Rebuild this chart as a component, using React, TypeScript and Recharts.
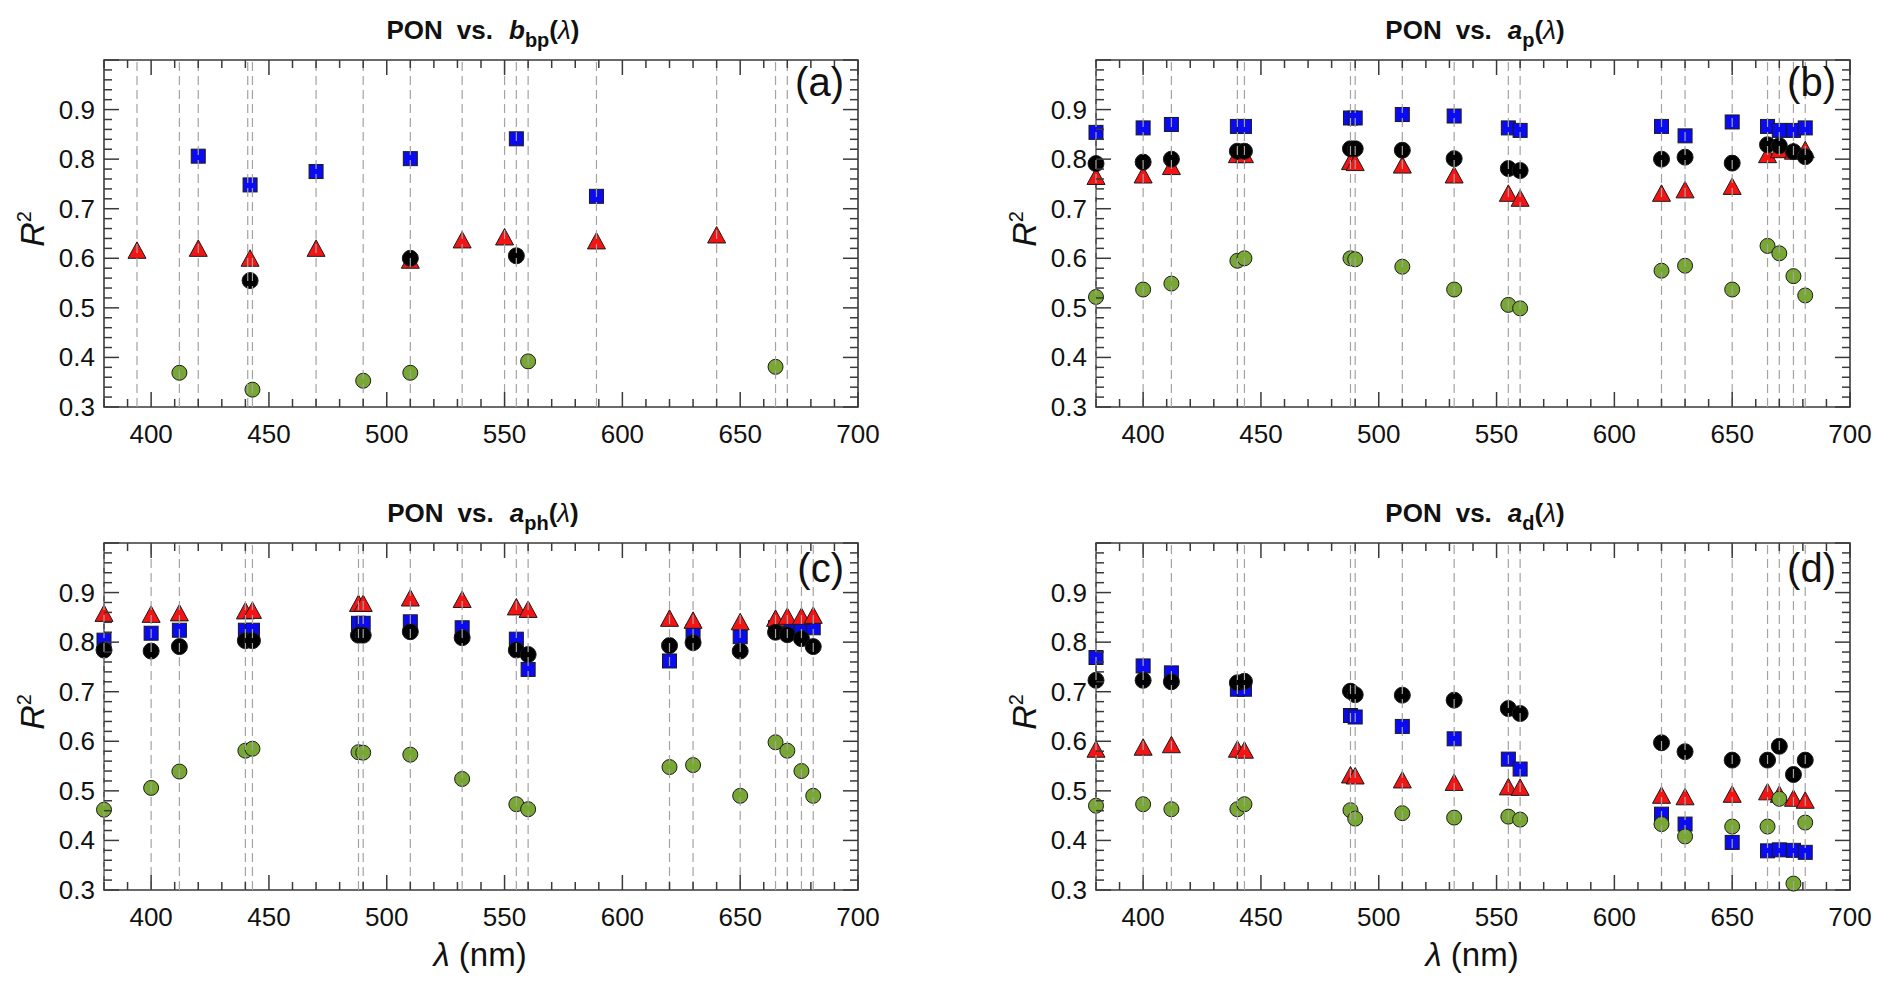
import React from 'react';
import { ScatterChart, Scatter, XAxis, YAxis, ReferenceLine, ReferenceArea } from 'recharts';

const FONT = '"Liberation Sans", Arial, Helvetica, sans-serif';
const INK = '#3a3a3a';

// plot box size (px) shared by the four panels
const PW = 754;
const PH = 347;

// ---- axis ticks ----
const X_MAJOR = [400, 450, 500, 550, 600, 650, 700];
const Y_MAJOR = [0.3, 0.4, 0.5, 0.6, 0.7, 0.8, 0.9];
const X_TICKS: number[] = [];
for (let v = 380; v <= 700; v += 10) X_TICKS.push(v);
const Y_TICKS: number[] = [];
for (let k = 0; k <= 35; k++) Y_TICKS.push(Number((0.3 + k * 0.02).toFixed(2)));

// ---- (a) PON vs bbp ----
const A_LINES = [394, 412, 420, 441, 443, 470, 490, 510, 532, 550, 555, 560, 589, 640, 665, 670];
const A_BLUE_WL = [420, 442, 470, 510, 555, 589];
const A_BLUE = [0.806, 0.748, 0.775, 0.801, 0.841, 0.725];
const A_RED_WL = [394, 420, 442, 470, 510, 532, 550, 589, 640];
const A_RED = [0.613, 0.617, 0.597, 0.617, 0.593, 0.634, 0.64, 0.632, 0.644];
const A_BLACK_WL = [442, 510, 555];
const A_BLACK = [0.555, 0.6, 0.605];
const A_GREEN_WL = [412, 443, 490, 510, 560, 665];
const A_GREEN = [0.369, 0.335, 0.353, 0.369, 0.392, 0.381];

// ---- (b), (c), (d) share the wavelengths ----
const WL = [380, 400, 412, 440, 443, 488, 490, 510, 532, 555, 560, 620, 630, 650, 665, 670, 676, 681];

const B_BLUE = [0.854, 0.863, 0.87, 0.866, 0.866, 0.883, 0.883, 0.89, 0.887, 0.863, 0.858, 0.866, 0.847, 0.875, 0.866, 0.858, 0.858, 0.863];
const B_BLACK = [0.791, 0.794, 0.8, 0.816, 0.816, 0.821, 0.821, 0.818, 0.801, 0.781, 0.777, 0.8, 0.804, 0.792, 0.829, 0.827, 0.815, 0.805];
const B_RED = [0.762, 0.765, 0.782, 0.806, 0.806, 0.792, 0.79, 0.785, 0.765, 0.728, 0.718, 0.728, 0.735, 0.742, 0.806, 0.816, 0.813, 0.816];
const B_GREEN = [0.522, 0.537, 0.549, 0.595, 0.6, 0.6, 0.598, 0.583, 0.537, 0.506, 0.499, 0.575, 0.585, 0.537, 0.625, 0.61, 0.564, 0.525];

const C_BLUE = [0.804, 0.818, 0.824, 0.824, 0.824, 0.838, 0.838, 0.841, 0.829, 0.806, 0.745, 0.762, 0.821, 0.811, 0.829, 0.824, 0.829, 0.829];
const C_BLACK = [0.784, 0.782, 0.791, 0.803, 0.803, 0.814, 0.814, 0.821, 0.809, 0.784, 0.775, 0.793, 0.799, 0.782, 0.82, 0.815, 0.807, 0.791];
const C_RED = [0.855, 0.853, 0.856, 0.86, 0.861, 0.875, 0.875, 0.886, 0.883, 0.868, 0.863, 0.845, 0.841, 0.838, 0.845, 0.849, 0.849, 0.851];
const C_GREEN = [0.462, 0.506, 0.539, 0.581, 0.585, 0.578, 0.577, 0.573, 0.524, 0.473, 0.463, 0.548, 0.552, 0.49, 0.598, 0.581, 0.54, 0.49];

const D_BLUE = [0.769, 0.752, 0.738, 0.705, 0.705, 0.652, 0.649, 0.63, 0.605, 0.564, 0.544, 0.453, 0.433, 0.396, 0.379, 0.381, 0.38, 0.376];
const D_BLACK = [0.723, 0.723, 0.72, 0.718, 0.721, 0.701, 0.694, 0.693, 0.683, 0.666, 0.656, 0.597, 0.579, 0.562, 0.562, 0.59, 0.533, 0.562];
const D_RED = [0.581, 0.585, 0.59, 0.581, 0.579, 0.529, 0.527, 0.519, 0.514, 0.505, 0.504, 0.488, 0.485, 0.49, 0.495, 0.49, 0.482, 0.478];
const D_GREEN = [0.47, 0.473, 0.463, 0.463, 0.473, 0.461, 0.444, 0.455, 0.446, 0.448, 0.442, 0.433, 0.408, 0.428, 0.428, 0.484, 0.313, 0.436];

const pts = (wl: number[], r2: number[]) => wl.map((x, i) => ({ x, y: r2[i] }));

// ---- marker shapes ----
const EDGE = '#1a1a1a';
const Square = (p: any) => (
  <rect x={p.cx - 7} y={p.cy - 7} width={14} height={14} fill="#0b0bf2" stroke={EDGE} strokeWidth={1} />
);
const Triangle = (p: any) => (
  <polygon
    points={`${p.cx},${p.cy - 10} ${p.cx + 9},${p.cy + 6.5} ${p.cx - 9},${p.cy + 6.5}`}
    fill="#f51414"
    stroke={EDGE}
    strokeWidth={1}
  />
);
const BlackDot = (p: any) => <circle cx={p.cx} cy={p.cy} r={8} fill="#000" stroke={EDGE} strokeWidth={1} />;
const GreenDot = (p: any) => <circle cx={p.cx} cy={p.cy} r={7.5} fill="#78a833" stroke={EDGE} strokeWidth={1} />;

// ticks drawn inward on both opposite sides, labels only on majors
const XTick = (props: any) => {
  const { x, y, payload } = props;
  const v = payload.value;
  const major = v % 50 === 0;
  const len = major ? 15 : 8;
  return (
    <g>
      <line x1={x} y1={y} x2={x} y2={y - len} stroke={INK} strokeWidth={1.5} />
      <line x1={x} y1={y - PH} x2={x} y2={y - PH + len} stroke={INK} strokeWidth={1.5} />
      {X_MAJOR.includes(v) && (
        <text x={x} y={y + 36} textAnchor="middle" fontSize={26} fontFamily={FONT} fill="#111">
          {v}
        </text>
      )}
    </g>
  );
};

const YTick = (props: any) => {
  const { x, y, payload } = props;
  const v = payload.value;
  const major = Math.abs(v * 10 - Math.round(v * 10)) < 1e-6;
  const len = major ? 15 : 8;
  const label = Y_MAJOR.find((m) => Math.abs(m - v) < 1e-6);
  return (
    <g>
      <line x1={x} y1={y} x2={x + len} y2={y} stroke={INK} strokeWidth={1.5} />
      <line x1={x + PW} y1={y} x2={x + PW - len} y2={y} stroke={INK} strokeWidth={1.5} />
      {label !== undefined && (
        <text x={x - 9} y={y + 9} textAnchor="end" fontSize={26} fontFamily={FONT} fill="#111">
          {label.toFixed(1)}
        </text>
      )}
    </g>
  );
};

interface PanelProps {
  left: number;
  top: number;
  lines: number[];
  blue: { x: number; y: number }[];
  red: { x: number; y: number }[];
  black: { x: number; y: number }[];
  green: { x: number; y: number }[];
}

function Panel({ left, top, lines, blue, red, black, green }: PanelProps) {
  return (
    <div style={{ position: 'absolute', left, top }}>
      <ScatterChart width={900} height={470} margin={{ top: 60, right: 42, bottom: 13, left: 34 }}>
        <XAxis
          type="number"
          dataKey="x"
          domain={[380, 700]}
          ticks={X_TICKS}
          interval={0}
          height={50}
          tickSize={0}
          tickMargin={0}
          axisLine={false}
          tickLine={false}
          tick={XTick}
        />
        <YAxis
          type="number"
          dataKey="y"
          domain={[0.3, 1]}
          ticks={Y_TICKS}
          interval={0}
          width={70}
          tickSize={0}
          tickMargin={0}
          axisLine={false}
          tickLine={false}
          tick={YTick}
        />
        <ReferenceArea x1={380} x2={700} y1={0.3} y2={1} fill="none" stroke={INK} strokeWidth={1.6} />
        <Scatter data={blue} shape={Square} isAnimationActive={false} />
        <Scatter data={red} shape={Triangle} isAnimationActive={false} />
        <Scatter data={black} shape={BlackDot} isAnimationActive={false} />
        <Scatter data={green} shape={GreenDot} isAnimationActive={false} />
        {lines.map((w) => (
          <ReferenceLine
            key={w}
            x={w}
            stroke="#a3a3a3"
            strokeWidth={1.2}
            strokeDasharray="9 5"
            zIndex={700}
          />
        ))}
      </ScatterChart>
    </div>
  );
}

function Title({ cx, y, v, sub }: { cx: number; y: number; v: string; sub: string }) {
  return (
    <text x={cx} y={y} textAnchor="middle" fontSize={26} fontWeight="bold" fontFamily={FONT} fill="#111">
      PON
      <tspan dx={14}>vs.</tspan>
      <tspan dx={16} fontStyle="italic">{v}</tspan>
      <tspan fontSize={20} dy={8}>{sub}</tspan>
      <tspan dy={-8}>(</tspan>
      <tspan fontStyle="italic" fontWeight="normal">λ</tspan>
      <tspan>)</tspan>
    </text>
  );
}

function R2({ x, y }: { x: number; y: number }) {
  return (
    <text transform={`translate(${x},${y}) rotate(-90)`} textAnchor="middle" fontSize={34} fontFamily={FONT} fill="#111">
      <tspan fontStyle="italic">R</tspan>
      <tspan fontSize={20} dy={-13}>2</tspan>
    </text>
  );
}

export default function App() {
  const DX = 992;
  const DY = 483;
  return (
    <div style={{ position: 'absolute', left: 0, top: 0, width: 1892, height: 993, background: '#fff', overflow: 'hidden' }}>
      <Panel left={0} top={0} lines={A_LINES}
        blue={pts(A_BLUE_WL, A_BLUE)} red={pts(A_RED_WL, A_RED)}
        black={pts(A_BLACK_WL, A_BLACK)} green={pts(A_GREEN_WL, A_GREEN)} />
      <Panel left={DX} top={0} lines={WL}
        blue={pts(WL, B_BLUE)} red={pts(WL, B_RED)} black={pts(WL, B_BLACK)} green={pts(WL, B_GREEN)} />
      <Panel left={0} top={DY} lines={WL}
        blue={pts(WL, C_BLUE)} red={pts(WL, C_RED)} black={pts(WL, C_BLACK)} green={pts(WL, C_GREEN)} />
      <Panel left={DX} top={DY} lines={WL}
        blue={pts(WL, D_BLUE)} red={pts(WL, D_RED)} black={pts(WL, D_BLACK)} green={pts(WL, D_GREEN)} />

      <svg width={1892} height={993} style={{ position: 'absolute', left: 0, top: 0, pointerEvents: 'none' }}>
        <Title cx={483} y={39} v="b" sub="bp" />
        <Title cx={483 + DX} y={39} v="a" sub="p" />
        <Title cx={483} y={39 + DY} v="a" sub="ph" />
        <Title cx={483 + DX} y={39 + DY} v="a" sub="d" />

        <R2 x={44} y={229} />
        <R2 x={44 + DX} y={229} />
        <R2 x={44} y={229 + DY} />
        <R2 x={44 + DX} y={229 + DY} />

        {['(a)', '(b)', '(c)', '(d)'].map((t, i) => (
          <text key={t} x={844 + (i % 2) * DX} y={96 + Math.floor(i / 2) * DY + (i > 1 ? 3 : 0)}
            textAnchor="end" fontSize={40} fontFamily={FONT} fill="#111">
            {t}
          </text>
        ))}

        {[480, 480 + DX].map((cx) => (
          <text key={cx} x={cx} y={966} textAnchor="middle" fontSize={33} fontFamily={FONT} fill="#111">
            <tspan fontStyle="italic">λ</tspan> (nm)
          </text>
        ))}
      </svg>
    </div>
  );
}
